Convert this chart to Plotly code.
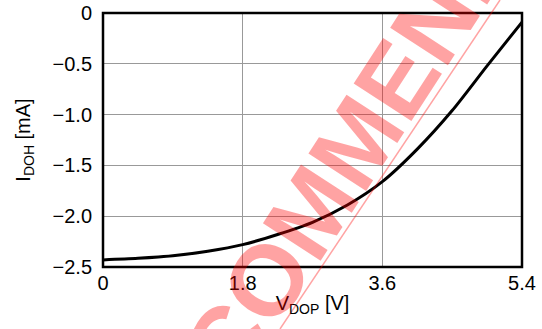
import plotly.graph_objects as go

# Data
v_dop = [0, 0.45, 0.9, 1.35, 1.8, 2.25, 2.7, 3.15, 3.6, 4.05, 4.5, 4.95, 5.4]
i_doh = [-2.43, -2.415, -2.39, -2.345, -2.28, -2.18, -2.06, -1.89, -1.66, -1.34, -0.96, -0.52, -0.09]

x_tickvals = [0, 1.8, 3.6, 5.4]
x_ticktext = ["0", "1.8", "3.6", "5.4"]
y_tickvals = [0, -0.5, -1.0, -1.5, -2.0, -2.5]
y_ticktext = ["0", "\u22120.5", "\u22121.0", "\u22121.5", "\u22122.0", "\u22122.5"]

watermark_text = "COMMENDED"

FONT = "Liberation Sans, Arial, sans-serif"

fig = go.Figure()
fig.add_trace(go.Scatter(
    x=v_dop, y=i_doh, mode="lines",
    line=dict(color="black", width=3, shape="spline", smoothing=0.8),
    hoverinfo="skip", showlegend=False,
))

fig.update_layout(
    width=542, height=329, autosize=False,
    margin=dict(l=103, r=20, t=13, b=62, autoexpand=False),
    paper_bgcolor="white", plot_bgcolor="white",
    font=dict(family=FONT, size=20, color="black"),
    showlegend=False,
    xaxis=dict(
        range=[0, 5.4], tickvals=x_tickvals, ticktext=x_ticktext,
        showgrid=True, gridcolor="#999999", gridwidth=1,
        showline=False, zeroline=False, automargin=False,
        ticks="", ticklabelstandoff=2, ticklabeloverflow="allow",
        title=dict(text="V<sub>DOP</sub> [V]", standoff=2, font=dict(size=20)),
    ),
    yaxis=dict(
        range=[-2.5, 0], tickvals=y_tickvals, ticktext=y_ticktext,
        showgrid=True, gridcolor="#999999", gridwidth=1,
        showline=False, zeroline=False, automargin=False,
        ticks="", ticklabelstandoff=10, ticklabeloverflow="allow",
        title=dict(text="I<sub>DOH</sub> [mA]", standoff=16, font=dict(size=20)),
    ),
)

# plot frame
fig.add_shape(
    type="rect", xref="paper", yref="paper", x0=0, y0=0, x1=1, y1=1,
    line=dict(color="black", width=2.5), layer="above",
)

# Watermark
fig.add_annotation(
    text="<b>" + watermark_text + "</b>", xref="paper", yref="paper",
    x=0.68, y=0.685, xanchor="center", yanchor="middle",
    showarrow=False, textangle=-57,
    font=dict(family=FONT, size=100, color="rgba(255,0,0,0.36)"),
)
fig.add_shape(
    type="line", xref="paper", yref="paper",
    x0=0.9475, y0=1.0512, x1=0.4224, y1=-0.2441,
    line=dict(color="rgba(255,0,0,0.36)", width=1.5),
)

fig.write_html("out.html", config={"displayModeBar": False},
               post_script="document.body.style.margin='0';")
